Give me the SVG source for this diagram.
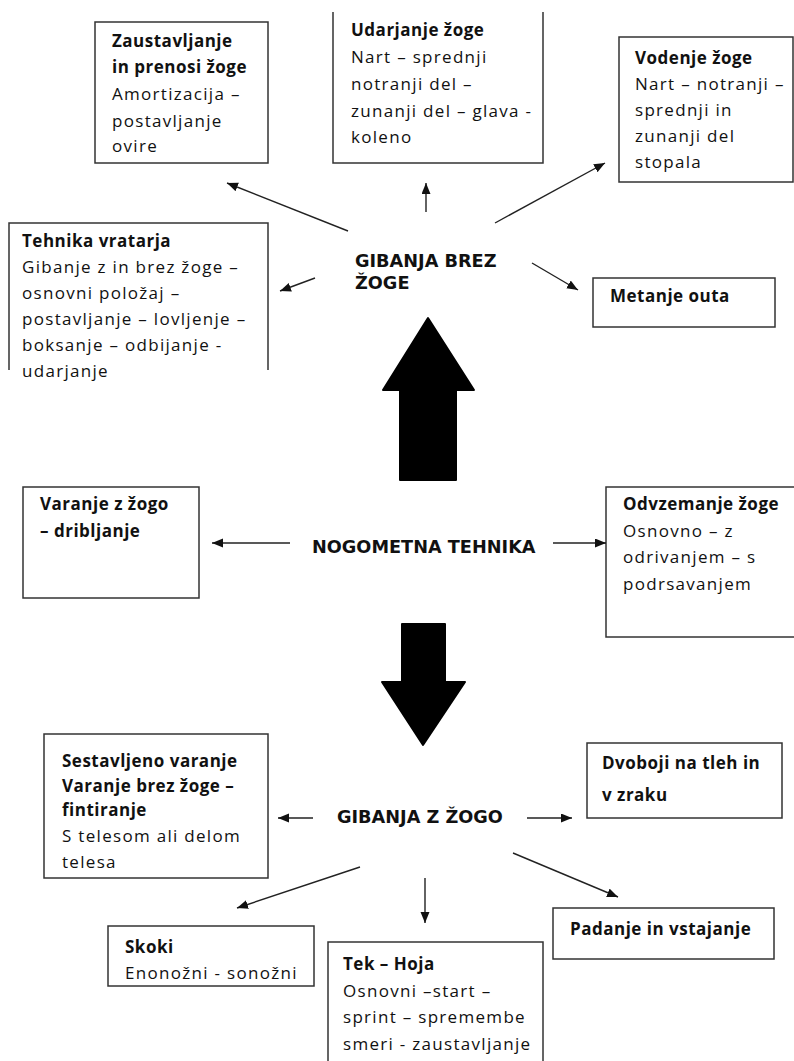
<svg xmlns="http://www.w3.org/2000/svg" width="794" height="1061" viewBox="0 0 794 1061">
<style>
.box{fill:#fff;stroke:#333;stroke-width:1.5}
.t{font-family:"Open Sans","Liberation Sans",sans-serif;font-size:17px;fill:#111;letter-spacing:1.3px}
.b{font-weight:bold;letter-spacing:0.5px}
.c{font-family:"DejaVu Sans","Verdana",sans-serif;font-size:17.7px;font-weight:bold;fill:#111}
.con{stroke:#222;stroke-width:1.4;fill:none;marker-end:url(#ah)}
.big{fill:#000}
</style>
<defs>
<marker id="ah" markerUnits="userSpaceOnUse" markerWidth="12" markerHeight="10" refX="11" refY="4.5" orient="auto">
<path d="M0,0 L11,4.5 L0,9 z" fill="#111"/>
</marker>
</defs>
<rect width="794" height="1061" fill="#fff"/>

<g id="n-zaustavljanje">
<rect class="box" x="95" y="22" width="173" height="141"/>
<text class="t b" x="112" y="47">Zaustavljanje</text>
<text class="t b" x="112" y="73">in prenosi žoge</text>
<text class="t" x="112" y="100">Amortizacija –</text>
<text class="t" x="112" y="127">postavljanje</text>
<text class="t" x="112" y="152">ovire</text>
</g>

<g id="n-udarjanje">
<path class="box" d="M333,12 V163 H543 V12"/>
<text class="t b" x="351" y="36">Udarjanje žoge</text>
<text class="t" x="351" y="63">Nart – sprednji</text>
<text class="t" x="351" y="90">notranji del –</text>
<text class="t" x="351" y="117">zunanji del – glava -</text>
<text class="t" x="351" y="143">koleno</text>
</g>

<g id="n-vodenje">
<rect class="box" x="619" y="37" width="174" height="145"/>
<text class="t b" x="635" y="64">Vodenje žoge</text>
<text class="t" x="635" y="90">Nart – notranji –</text>
<text class="t" x="635" y="116">sprednji in</text>
<text class="t" x="635" y="142">zunanji del</text>
<text class="t" x="635" y="168">stopala</text>
</g>

<g id="n-vratar">
<path class="box" d="M9,370 V223 H268 V370"/>
<text class="t b" x="22" y="247">Tehnika vratarja</text>
<text class="t" x="22" y="273">Gibanje z in brez žoge –</text>
<text class="t" x="22" y="299">osnovni položaj –</text>
<text class="t" x="22" y="325">postavljanje – lovljenje –</text>
<text class="t" x="22" y="351">boksanje – odbijanje -</text>
<text class="t" x="22" y="377">udarjanje</text>
</g>

<g id="n-metanje">
<rect class="box" x="593" y="278" width="182" height="49"/>
<text class="t b" x="610" y="302">Metanje outa</text>
</g>

<g id="n-gibanja-brez">
<text class="c" x="355" y="267">GIBANJA BREZ</text>
<text class="c" x="355" y="289">ŽOGE</text>
</g>

<g id="n-varanje">
<rect class="box" x="23" y="487" width="176" height="111"/>
<text class="t b" x="40" y="510">Varanje z žogo</text>
<text class="t b" x="40" y="537">– dribljanje</text>
</g>

<g id="n-nogometna">
<text class="c" x="312" y="553">NOGOMETNA TEHNIKA</text>
</g>

<g id="n-odvzemanje">
<rect class="box" x="606" y="487" width="190" height="150"/>
<text class="t b" x="623" y="510">Odvzemanje žoge</text>
<text class="t" x="623" y="537">Osnovno – z</text>
<text class="t" x="623" y="563">odrivanjem – s</text>
<text class="t" x="623" y="590">podrsavanjem</text>
</g>

<g id="n-sestavljeno">
<rect class="box" x="44" y="734" width="224" height="144"/>
<text class="t b" x="62" y="767">Sestavljeno varanje</text>
<text class="t b" x="62" y="792">Varanje brez žoge –</text>
<text class="t b" x="62" y="816">fintiranje</text>
<text class="t" x="62" y="842">S telesom ali delom</text>
<text class="t" x="62" y="868">telesa</text>
</g>

<g id="n-gibanja-z">
<text class="c" x="337" y="823">GIBANJA Z ŽOGO</text>
</g>

<g id="n-dvoboji">
<rect class="box" x="587" y="743" width="195" height="75"/>
<text class="t b" x="602" y="769">Dvoboji na tleh in</text>
<text class="t b" x="602" y="801">v zraku</text>
</g>

<g id="n-skoki">
<rect class="box" x="108" y="926" width="206" height="60"/>
<text class="t b" x="125" y="953">Skoki</text>
<text class="t" x="125" y="979">Enonožni - sonožni</text>
</g>

<g id="n-tek">
<rect class="box" x="328" y="942" width="215" height="130"/>
<text class="t b" x="343" y="970">Tek – Hoja</text>
<text class="t" x="343" y="997">Osnovni –start –</text>
<text class="t" x="343" y="1023">sprint – spremembe</text>
<text class="t" x="343" y="1050">smeri - zaustavljanje</text>
</g>

<g id="n-padanje">
<rect class="box" x="553" y="908" width="221" height="51"/>
<text class="t b" x="570" y="935">Padanje in vstajanje</text>
</g>

<g id="connectors">
<line class="con" x1="348" y1="231" x2="227" y2="183"/>
<line class="con" x1="426" y1="212" x2="426" y2="183"/>
<line class="con" x1="495" y1="223" x2="605" y2="163"/>
<line class="con" x1="315" y1="278" x2="280" y2="291"/>
<line class="con" x1="532" y1="263" x2="578" y2="290"/>
<line class="con" x1="290" y1="543" x2="212" y2="543"/>
<line class="con" x1="553" y1="543" x2="606" y2="543"/>
<line class="con" x1="313" y1="818" x2="278" y2="818"/>
<line class="con" x1="527" y1="818" x2="572" y2="818"/>
<line class="con" x1="360" y1="867" x2="237" y2="908"/>
<line class="con" x1="425" y1="878" x2="425" y2="923"/>
<line class="con" x1="513" y1="853" x2="618" y2="897"/>
<path class="big" d="M428,318 L474,390 L456,390 L456,480 L400,480 L400,390 L383,390 Z" stroke="#000" stroke-width="2" stroke-linejoin="round"/>
<path class="big" d="M402,624 L445,624 L445,682 L465,682 L423,745 L382,682 L402,682 Z" stroke="#000" stroke-width="2" stroke-linejoin="round"/>
</g>
</svg>
